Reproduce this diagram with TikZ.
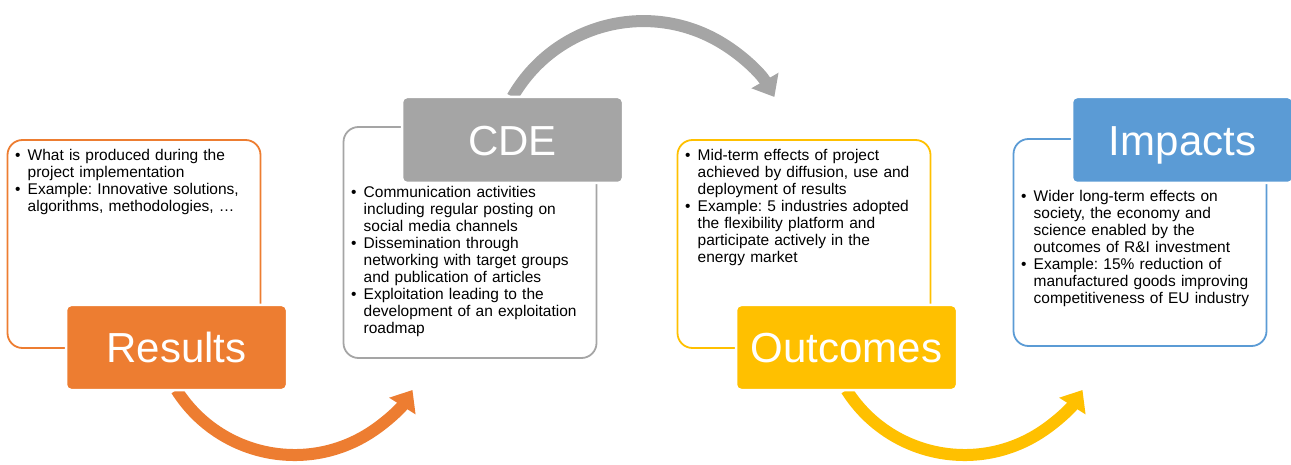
\documentclass[tikz,border=0pt]{standalone}
\usepackage{fontspec}
\setmainfont{Liberation Sans}
\usepackage{xcolor}
\usetikzlibrary{positioning,arrows.meta,backgrounds}
\definecolor{resorange}{HTML}{ED7D31}
\definecolor{cdegray}{HTML}{A5A5A5}
\definecolor{outyellow}{HTML}{FFC000}
\definecolor{impblue}{HTML}{5B9BD5}
\newcommand{\bul}[1]{\noindent\hangindent=12.5pt\hangafter=1\makebox[12.5pt][l]{\textbullet}#1\par}
\tikzset{
  panel/.style={draw, line width=1.8pt, rounded corners=15pt, minimum width=253pt, inner sep=0pt, outer sep=0pt},
  tag/.style={draw=white, line width=2.5pt, rounded corners=5pt, minimum width=221pt, minimum height=85pt,
    inner sep=0pt, outer sep=0pt, text=white, font=\fontsize{42}{42}\selectfont, text height=30.5pt, text depth=0pt},
  bullets/.style={anchor=base west, inner sep=0pt, text width=240pt, align=left,
    font=\fontsize{15.5}{17}\selectfont\frenchspacing},
  bigarrow/.style={line width=12pt, -{Triangle[length=19pt, width=30pt]}},
}
\begin{document}
\begin{tikzpicture}[x=1pt, y=1pt]
\useasboundingbox (0,0) rectangle (1291,464);
% outline panels
\node[panel, draw=resorange, minimum height=208pt] (res) at (134,220) {};
\node[panel, draw=cdegray, minimum height=231pt] (cde) at (470,221.5) {};
\node[panel, draw=outyellow, minimum height=208pt, right=417pt of res] (out) {};
\node[panel, draw=impblue, minimum height=207pt, right=417pt of cde] (imp) {};
% bullet texts
\node[bullets] (rest) at (15,303) {\bul{What is produced during the\newline project implementation}%
  \bul{Example: Innovative solutions,\newline algorithms, methodologies, …}};
\node[bullets] (cdet) at (351,266) {\bul{Communication activities\newline including regular posting on\newline social media channels}%
  \bul{Dissemination through\newline networking with target groups\newline and publication of articles}%
  \bul{Exploitation leading to the\newline development of an exploitation\newline roadmap}};
\node[bullets] (outt) at (685,303) {\bul{Mid-term effects of project\newline achieved by diffusion, use and\newline deployment of results}%
  \bul{Example: 5 industries adopted\newline the flexibility platform and\newline participate actively in the\newline energy market}};
\node[bullets] (impt) at (1021,262) {\bul{Wider long-term effects on\newline society, the economy and\newline science enabled by the\newline outcomes of R\&I investment}%
  \bul{Example: 15\% reduction of\newline manufactured goods improving\newline competitiveness of EU industry}};
% title boxes
\node[tag, fill=resorange] (resl) at (176.5,116.5) {Results};
\node[tag, fill=cdegray, minimum height=86pt] (cdel) at (512.5,324) {CDE};
\node[tag, fill=outyellow, right=449pt of resl] (outl) {Outcomes};
\node[tag, fill=impblue, minimum height=86pt, right=449pt of cdel] (impl) {Impacts};
% curved arrows
\begin{scope}[on background layer]
\draw[bigarrow, resorange] (resl.south) arc[start angle=212.3, end angle=327.7, radius=139.6pt] coordinate (rtip);
\draw[bigarrow, cdegray] (cdel.north) arc[start angle=150.2, end angle=29.8, radius=150.9pt] coordinate (ctip);
\draw[bigarrow, outyellow] (outl.south) arc[start angle=212.3, end angle=327.7, radius=139.6pt] coordinate (otip);
\end{scope}
\end{tikzpicture}
\end{document}
